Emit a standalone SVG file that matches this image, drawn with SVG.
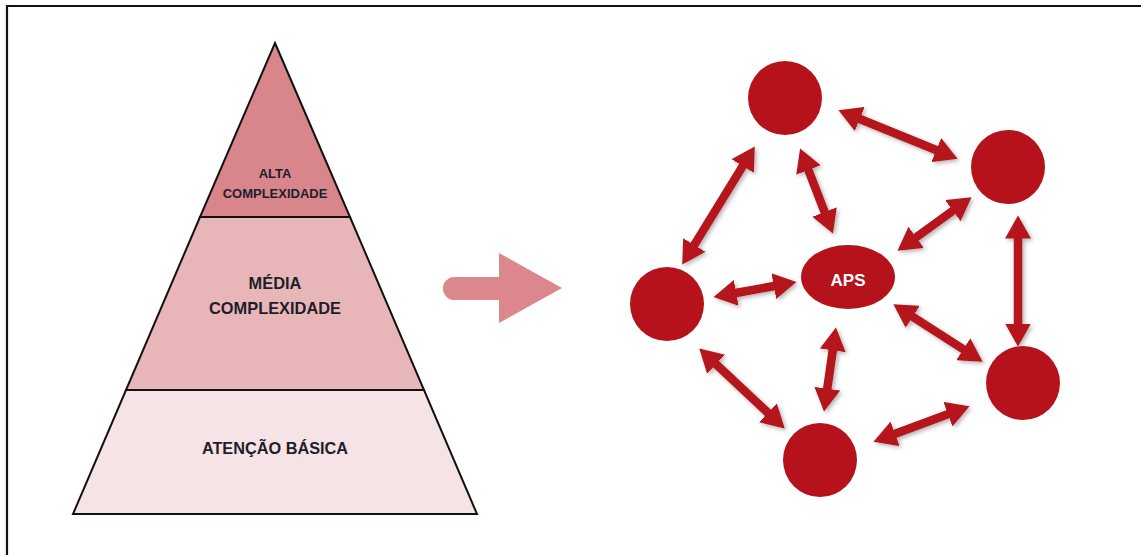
<svg xmlns="http://www.w3.org/2000/svg" width="1141" height="555" viewBox="0 0 1141 555">
<style>
.lvl{stroke:#111;stroke-width:2;stroke-linejoin:miter}
.pt{font-family:"Liberation Sans",Arial,sans-serif;font-weight:bold;fill:#1e1e2a;text-anchor:middle}
.node{fill:#B5121B}
.con{stroke:#B5121B;stroke-width:8.5;fill:none;marker-start:url(#ah);marker-end:url(#ah)}
</style>
<defs>
<marker id="ah" markerUnits="userSpaceOnUse" markerWidth="24" markerHeight="26" viewBox="0 0 24 26" refX="0.5" refY="13" orient="auto-start-reverse">
<path d="M0,0 L23,13 L0,26 z" fill="#B5121B"/>
</marker>
<filter id="sh" x="-20%" y="-20%" width="140%" height="140%">
<feDropShadow dx="2" dy="2" stdDeviation="2" flood-color="#000" flood-opacity="0.3"/>
</filter>
</defs>
<rect width="1141" height="555" fill="#fff"/>
<path d="M7,555 L7,6 L1141,6" fill="none" stroke="#111" stroke-width="2.2"/>

<g id="pyramid">
<g id="base-level">
<polygon class="lvl" points="126,390 424,390 477,514 73,514" fill="#F6E3E5"/>
<text class="pt" x="275" y="454" font-size="16.3">ATENÇÃO BÁSICA</text>
</g>
<g id="mid-level">
<polygon class="lvl" points="200,217 350,217 424,390 126,390" fill="#E8B6B9"/>
<text class="pt" x="275" y="289" font-size="16.4">MÉDIA</text>
<text class="pt" x="275" y="314" font-size="16.4">COMPLEXIDADE</text>
</g>
<g id="top-level">
<polygon class="lvl" points="275,43 350,217 200,217" fill="#D8868C"/>
<text class="pt" x="275" y="178" font-size="13">ALTA</text>
<text class="pt" x="275" y="198" font-size="13">COMPLEXIDADE</text>
</g>
</g>

<g id="transition-arrow">
<path d="M454.5,277 L499,277 L499,253 L562,288 L499,323 L499,300 L454.5,300 A11.5,11.5 0 0 1 454.5,277 z" fill="#DB878D"/>
</g>

<g id="connectors" filter="url(#sh)">
<line class="con" x1="859.3" y1="118.7" x2="936.7" y2="150.3"/>
<line class="con" x1="743" y1="165.6" x2="694" y2="245.4"/>
<line class="con" x1="808.2" y1="169.5" x2="824.8" y2="212.5"/>
<line class="con" x1="953.3" y1="210.4" x2="915.7" y2="237.6"/>
<line class="con" x1="1018" y1="238" x2="1018" y2="324"/>
<line class="con" x1="735.7" y1="293" x2="774.3" y2="286"/>
<line class="con" x1="912.3" y1="316.5" x2="963.7" y2="349.5"/>
<line class="con" x1="715.7" y1="363.8" x2="768.3" y2="413.2"/>
<line class="con" x1="832.8" y1="349.8" x2="827.2" y2="389.2"/>
<line class="con" x1="894.6" y1="434" x2="948.4" y2="414"/>
</g>

<g id="node-top"><circle class="node" cx="785" cy="98" r="37"/></g>
<g id="node-right-top"><circle class="node" cx="1008" cy="167" r="37"/></g>
<g id="node-left"><circle class="node" cx="667" cy="304" r="37"/></g>
<g id="node-right-bottom"><circle class="node" cx="1023" cy="383" r="37"/></g>
<g id="node-bottom"><circle class="node" cx="820" cy="460" r="37"/></g>
<g id="node-aps">
<ellipse class="node" cx="848" cy="277" rx="47" ry="32"/>
<text x="848" y="286" font-family="'Liberation Sans',Arial,sans-serif" font-weight="bold" font-size="17" fill="#fff" text-anchor="middle">APS</text>
</g>
</svg>
